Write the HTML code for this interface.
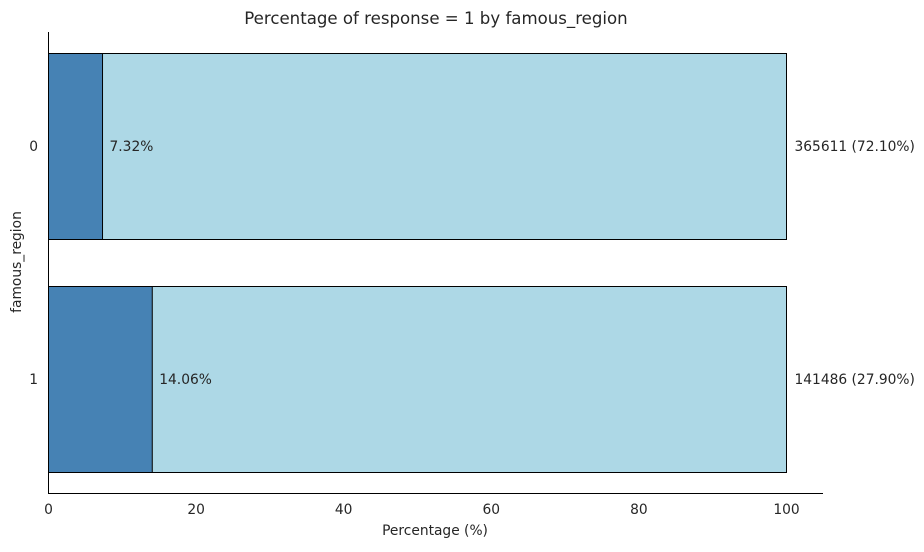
<!DOCTYPE html>
<html><head><meta charset="utf-8"><style>
body{margin:0;background:#fff;font-family:"Liberation Sans","DejaVu Sans",sans-serif;}
svg text{font-family:"DejaVu Sans","Liberation Sans",sans-serif;fill:#262626;}
</style></head><body>
<svg id="chart" width="924" height="547">
<text x="436" y="24" font-size="16.6" text-anchor="middle">Percentage of response = 1 by famous_region</text>
<g id="bars"></g>
<line x1="48.5" y1="32" x2="48.5" y2="493.5" stroke="#000" stroke-width="1"/>
<line x1="48" y1="493.5" x2="823" y2="493.5" stroke="#000" stroke-width="1"/>
<g id="xticks"></g><g id="yticks"></g>
<text x="435" y="535" font-size="13.8" text-anchor="middle">Percentage (%)</text>
<text transform="translate(21,262) rotate(-90)" font-size="13.8" text-anchor="middle">famous_region</text>
</svg>
<script>
const categories=["0","1"];
const positivePct=[7.32,14.06];
const counts=[365611,141486];
const shares=[72.10,27.90];
const xTicks=[0,20,40,60,80,100];
const NS="http://www.w3.org/2000/svg";
const x=v=>48.5+v*7.38;
const y=i=>146+i*233;
const bh=186;
function mk(t,a,p){const e=document.createElementNS(NS,t);for(const k in a)e.setAttribute(k,a[k]);p.appendChild(e);return e;}
const g=document.getElementById('bars');
categories.forEach((c,i)=>{
 const r1=mk('rect',{x:x(0),y:y(i)-bh/2+0.5,width:x(100)-x(0),height:bh,fill:'#add8e6',stroke:'#000','stroke-width':1},g);
 
 
 const r2=mk('rect',{x:x(0),y:y(i)-bh/2+0.5,width:x(positivePct[i])-x(0),height:bh,fill:'#4682b4',stroke:'#000','stroke-width':1},g);
 
 
 const t1=mk('text',{x:x(positivePct[i])+7,y:y(i)+5,'font-size':13.8},g);
 t1.textContent=positivePct[i].toFixed(2)+'%';
 
 
 const t2=mk('text',{x:x(100)+8,y:y(i)+5,'font-size':13.8},g);
 t2.textContent=counts[i]+' ('+shares[i].toFixed(2)+'%)';
 
 
 const yt=mk('text',{x:38,y:y(i)+5,'font-size':13.8,'text-anchor':'end'},document.getElementById('yticks'));
 yt.textContent=c;
 
 
});
const xg=document.getElementById('xticks');
xTicks.forEach(v=>{
 const t=mk('text',{x:x(v),y:514,'font-size':13.8,'text-anchor':'middle'},xg);
 t.textContent=v;
 
 
});
</script>
</body></html>
